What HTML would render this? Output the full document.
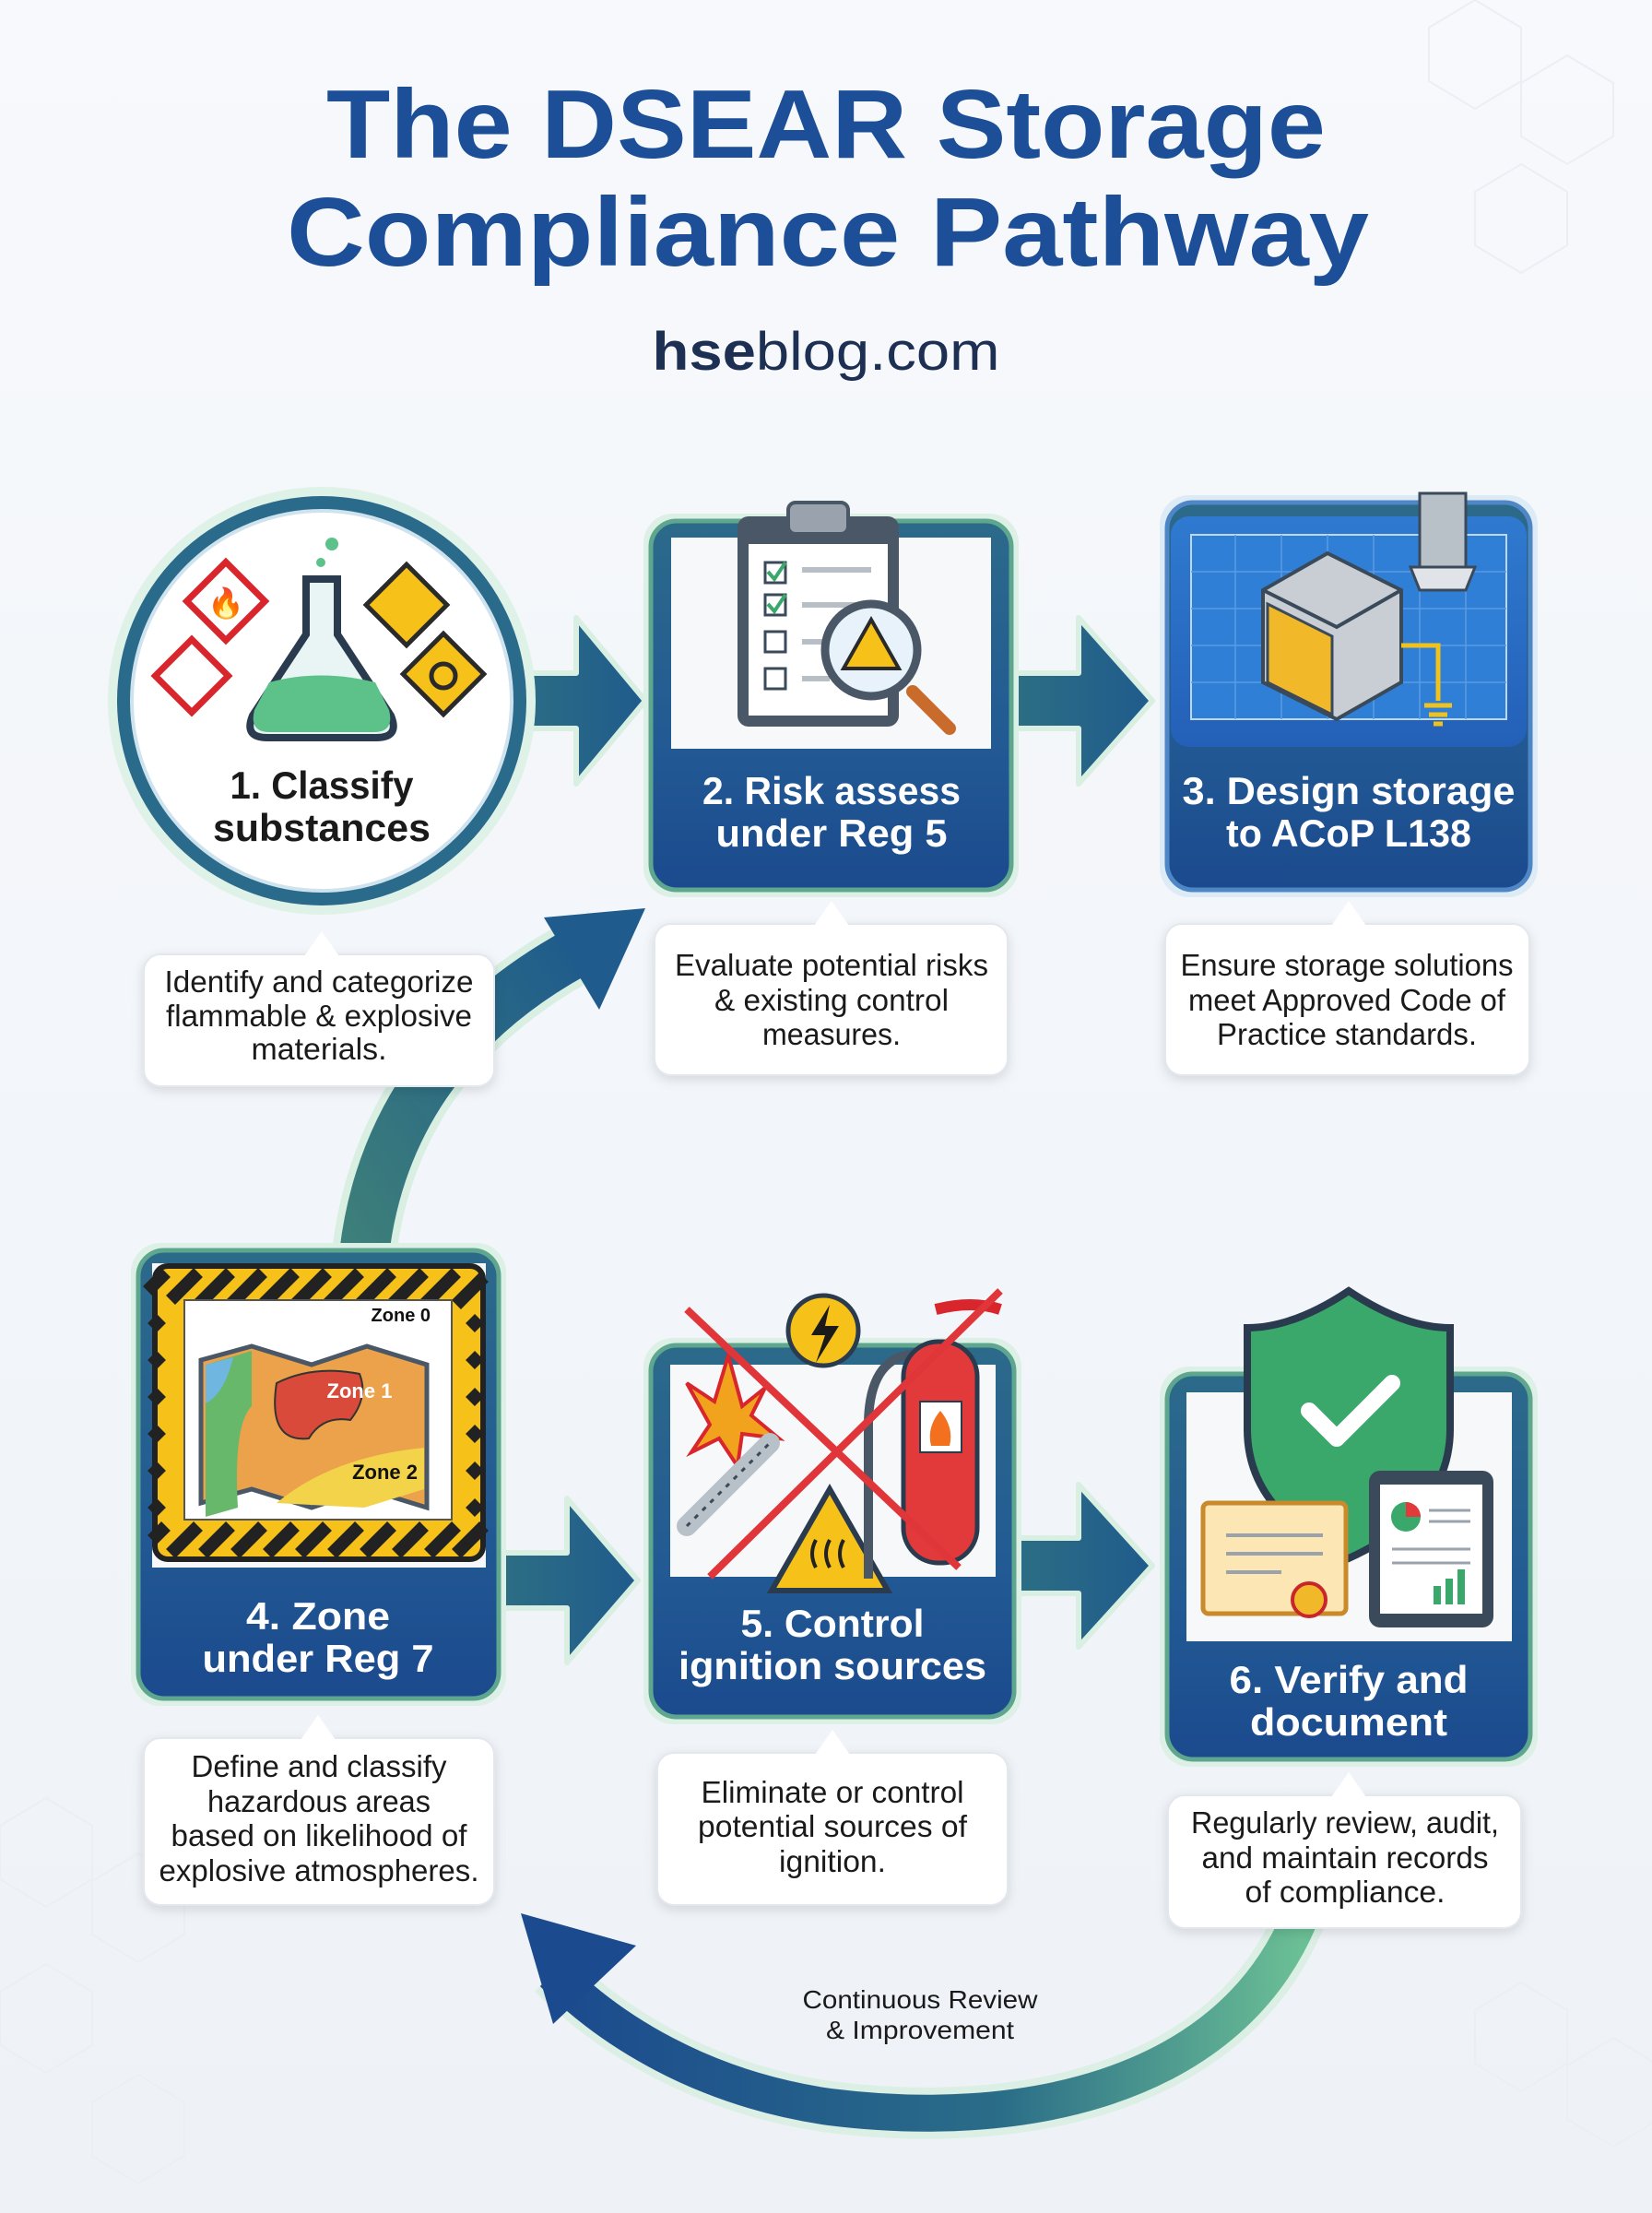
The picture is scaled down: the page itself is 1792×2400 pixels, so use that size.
<!DOCTYPE html>
<html><head><meta charset="utf-8"><style>
html,body{margin:0;padding:0;background:#f3f6fa}
svg{display:block}
text{font-family:"Liberation Sans",sans-serif}
</style></head><body>
<svg width="1792" height="2400" viewBox="0 0 1792 2400" xmlns="http://www.w3.org/2000/svg">
<defs>
<linearGradient id="bg" x1="0" y1="0" x2="0" y2="1"><stop offset="0" stop-color="#f7f9fc"/><stop offset="1" stop-color="#eef2f7"/></linearGradient>
<linearGradient id="cardg" x1="0" y1="0" x2="0" y2="1"><stop offset="0" stop-color="#2c6a8a"/><stop offset="0.6" stop-color="#225a94"/><stop offset="1" stop-color="#1b4a8e"/></linearGradient>
<linearGradient id="arrg" x1="0" y1="0" x2="1" y2="0"><stop offset="0" stop-color="#2d6f84"/><stop offset="1" stop-color="#1f5b8c"/></linearGradient>
<linearGradient id="arcg" x1="1" y1="0" x2="0" y2="0"><stop offset="0" stop-color="#6bbf95"/><stop offset="0.4" stop-color="#2a6d88"/><stop offset="1" stop-color="#1b4a8e"/></linearGradient>
<linearGradient id="upg" x1="0" y1="1" x2="1" y2="0"><stop offset="0" stop-color="#3d7f7a"/><stop offset="1" stop-color="#1f5b8c"/></linearGradient>
<linearGradient id="bp" x1="0" y1="0" x2="0" y2="1"><stop offset="0" stop-color="#2f7ad0"/><stop offset="1" stop-color="#2460b8"/></linearGradient>
</defs>
<rect width="1792" height="2400" fill="url(#bg)"/>
<g fill="none" stroke="#ebeff4" stroke-width="2">
<path d="M1600 0 l50 30 v58 l-50 30 l-50 -30 v-58z M1700 60 l50 30 v58 l-50 30 l-50 -30 v-58z M1650 178 l50 30 v58 l-50 30 l-50 -30 v-58z"/>
<path d="M50 1950 l50 30 v58 l-50 30 l-50 -30 v-58z M150 2010 l50 30 v58 l-50 30 l-50 -30 v-58z M50 2130 l50 30 v58 l-50 30 l-50 -30 v-58z M150 2250 l50 30 v58 l-50 30 l-50 -30 v-58z M1650 2150 l50 30 v58 l-50 30 l-50 -30 v-58z M1750 2210 l50 30 v58 l-50 30 l-50 -30 v-58z"/>
</g>

<text x="896" y="171" text-anchor="middle" font-size="106" font-weight="bold" fill="#1c4f98" textLength="1084" lengthAdjust="spacingAndGlyphs">The DSEAR Storage</text>
<text x="898" y="288" text-anchor="middle" font-size="106" font-weight="bold" fill="#1c4f98" textLength="1174" lengthAdjust="spacingAndGlyphs">Compliance Pathway</text>
<text x="896" y="401" text-anchor="middle" font-size="58" fill="#1d2f52" textLength="377" lengthAdjust="spacingAndGlyphs"><tspan font-weight="bold">hse</tspan>blog.com</text>

<path d="M395 1360 C410 1230 480 1110 630 1030" fill="none" stroke="#d8efe2" stroke-width="70"/>
<path d="M395 1360 C410 1230 480 1110 630 1030" fill="none" stroke="url(#upg)" stroke-width="54"/>
<polygon points="700,985 590,995 650,1095" fill="#1f5b8c"/>

<path d="M1410 2080 C1330 2270 1100 2310 900 2285 C760 2265 660 2200 600 2140" fill="none" stroke="#dcefe5" stroke-width="56"/>
<path d="M1410 2080 C1330 2270 1100 2310 900 2285 C760 2265 660 2200 600 2140" fill="none" stroke="url(#arcg)" stroke-width="40"/>
<polygon points="565,2075 690,2110 600,2195" fill="#1b4a8e"/>
<text x="998" y="2178" text-anchor="middle" font-size="28" fill="#1a1a1a" textLength="255" lengthAdjust="spacingAndGlyphs">Continuous Review</text>
<text x="998" y="2211" text-anchor="middle" font-size="28" fill="#1a1a1a" textLength="204" lengthAdjust="spacingAndGlyphs">&amp; Improvement</text>

<g fill="url(#arrg)" stroke="#d8efe2" stroke-width="6" stroke-linejoin="round">
<polygon points="550,730 625,730 625,670 700,760 625,850 625,790 550,790"/>
<polygon points="1095,730 1170,730 1170,670 1250,760 1170,850 1170,790 1095,790"/>
<polygon points="540,1684 615,1684 615,1625 692,1714 615,1803 615,1744 540,1744"/>
<polygon points="1095,1668 1170,1668 1170,1610 1250,1698 1170,1786 1170,1728 1095,1728"/>
</g>

<circle cx="349" cy="760" r="232" fill="#dff2e8"/>
<circle cx="349" cy="760" r="222" fill="#2a6a8a"/>
<circle cx="349" cy="760" r="206" fill="#ffffff"/>
<circle cx="349" cy="760" r="206" fill="none" stroke="#cfe3ef" stroke-width="4"/>
<g>
<path d="M332 628 h34 v60 l58 88 q10 24 -16 24 h-118 q-26 0 -16 -24 l58 -88z" fill="#e9f4f4" stroke="#2a3b4f" stroke-width="8"/>
<path d="M292 740 q55 -15 115 0 l15 30 q6 24 -16 24 h-114 q-22 0 -16 -24z" fill="#5cc28a"/>
<circle cx="360" cy="590" r="7" fill="#5cc28a"/><circle cx="348" cy="610" r="5" fill="#5cc28a"/>
<rect x="215" y="622" width="60" height="60" transform="rotate(45 245 652)" fill="#fff" stroke="#d9262c" stroke-width="7"/>
<text x="245" y="665" text-anchor="middle" font-size="32">🔥</text>
<rect x="180" y="705" width="56" height="56" transform="rotate(45 208 733)" fill="#fff" stroke="#d9262c" stroke-width="7"/>
<rect x="410" y="625" width="62" height="62" transform="rotate(45 441 656)" fill="#f6c21a" stroke="#2a2a2a" stroke-width="5"/>
<rect x="450" y="700" width="62" height="62" transform="rotate(45 481 731)" fill="#f6c21a" stroke="#2a2a2a" stroke-width="5"/>
<circle cx="481" cy="733" r="13" fill="none" stroke="#2a2a2a" stroke-width="5"/>
</g>
<text x="349" y="866" text-anchor="middle" font-size="42" font-weight="bold" fill="#1a1a1a" textLength="199" lengthAdjust="spacingAndGlyphs">1. Classify</text>
<text x="349" y="912" text-anchor="middle" font-size="42" font-weight="bold" fill="#1a1a1a" textLength="236" lengthAdjust="spacingAndGlyphs">substances</text>

<rect x="698" y="557" width="407" height="416" rx="32" fill="#dcf0e6"/>
<rect x="706" y="565" width="391" height="400" rx="28" fill="url(#cardg)" stroke="#5ea78e" stroke-width="5"/>
<rect x="728" y="583" width="347" height="229" fill="#f7f8fa"/>
<rect x="800" y="560" width="175" height="228" rx="12" fill="#4a5766"/>
<rect x="812" y="590" width="151" height="186" fill="#fff"/>
<rect x="855" y="545" width="65" height="34" rx="8" fill="#9aa3ad" stroke="#4a5766" stroke-width="4"/>
<g stroke="#3a4a5a" stroke-width="3" fill="#fff">
<rect x="830" y="610" width="22" height="22"/><rect x="830" y="645" width="22" height="22"/><rect x="830" y="685" width="22" height="22"/><rect x="830" y="725" width="22" height="22"/></g>
<path d="M833 620 l7 8 l12 -18 M833 655 l7 8 l12 -18" stroke="#3aa86a" stroke-width="4" fill="none"/>
<g stroke="#b8bec6" stroke-width="6"><path d="M870 618 h75 M870 656 h75 M870 696 h30 M870 736 h30"/></g>
<path d="M990 750 l40 40" stroke="#c96b2a" stroke-width="14" stroke-linecap="round"/>
<circle cx="945" cy="705" r="50" fill="#e8f2fa" stroke="#4a5766" stroke-width="9"/>
<polygon points="945,672 975,725 915,725" fill="#f6c21a" stroke="#2a2a2a" stroke-width="4"/>
<text x="902" y="872" text-anchor="middle" font-size="42" font-weight="bold" fill="#fff" textLength="280" lengthAdjust="spacingAndGlyphs">2. Risk assess</text>
<text x="902" y="918" text-anchor="middle" font-size="42" font-weight="bold" fill="#fff" textLength="251" lengthAdjust="spacingAndGlyphs">under Reg 5</text>

<rect x="1258" y="537" width="410" height="436" rx="32" fill="#dcebf6"/>
<rect x="1266" y="545" width="394" height="420" rx="28" fill="url(#cardg)" stroke="#4f86c6" stroke-width="5"/>
<rect x="1270" y="560" width="386" height="250" rx="20" fill="url(#bp)"/>
<rect x="1292" y="580" width="342" height="200" fill="#2f7fd6" stroke="#bcd8f5" stroke-width="2"/>
<g stroke="#5b9be3" stroke-width="1.5"><path d="M1292 620 h342 M1292 660 h342 M1292 700 h342 M1292 740 h342 M1340 580 v200 M1390 580 v200 M1440 580 v200 M1490 580 v200 M1540 580 v200 M1590 580 v200"/></g>
<path d="M1370 640 l70 -40 l80 40 v100 l-70 40 l-80 -40z" fill="#c9ced4" stroke="#3a4a5a" stroke-width="4"/>
<path d="M1370 640 l80 40 l70 -40" fill="none" stroke="#3a4a5a" stroke-width="4"/>
<path d="M1375 655 l70 35 v85 l-70 -35z" fill="#f1b92a" stroke="#3a4a5a" stroke-width="3"/>
<path d="M1520 700 h40 v60" stroke="#f1c21a" stroke-width="5" fill="none"/>
<path d="M1545 765 h30 M1550 775 h20 M1555 785 h10" stroke="#f1c21a" stroke-width="5"/>
<rect x="1540" y="535" width="50" height="80" fill="#b8c0c8" stroke="#3a4a5a" stroke-width="3"/>
<path d="M1530 615 h70 l-10 25 h-50z" fill="#e0e4e8" stroke="#3a4a5a" stroke-width="3"/>
<text x="1463" y="872" text-anchor="middle" font-size="42" font-weight="bold" fill="#fff" textLength="361" lengthAdjust="spacingAndGlyphs">3. Design storage</text>
<text x="1463" y="918" text-anchor="middle" font-size="42" font-weight="bold" fill="#fff" textLength="266" lengthAdjust="spacingAndGlyphs">to ACoP L138</text>

<rect x="142" y="1348" width="407" height="502" rx="32" fill="#dcf0e6"/>
<rect x="150" y="1356" width="391" height="486" rx="28" fill="url(#cardg)" stroke="#5ea78e" stroke-width="5"/>
<rect x="165" y="1370" width="362" height="330" fill="#f7f8fa"/>
<rect x="168" y="1373" width="356" height="318" rx="14" fill="#f6c21a" stroke="#222" stroke-width="6"/>
<g stroke="#222" stroke-width="14">
<path d="M180 1380 l-20 20 M215 1380 l-30 30 M250 1380 l-35 35 M285 1380 l-35 35 M320 1380 l-35 35 M355 1380 l-35 35 M390 1380 l-35 35 M425 1380 l-35 35 M460 1380 l-35 35 M495 1380 l-35 35 M525 1385 l-30 30"/>
<path d="M180 1655 l-15 15 M215 1655 l-30 30 M250 1655 l-30 30 M285 1655 l-30 30 M320 1655 l-30 30 M355 1655 l-30 30 M390 1655 l-30 30 M425 1655 l-30 30 M460 1655 l-30 30 M495 1655 l-30 30 M525 1655 l-30 30"/>
<path d="M175 1430 l-10 10 M175 1470 l-10 10 M175 1510 l-10 10 M175 1550 l-10 10 M175 1590 l-10 10 M175 1630 l-10 10 M520 1430 l-10 10 M520 1470 l-10 10 M520 1510 l-10 10 M520 1550 l-10 10 M520 1590 l-10 10 M520 1630 l-10 10"/>
</g>
<rect x="200" y="1410" width="290" height="238" fill="#fff" stroke="#555" stroke-width="2"/>
<path d="M218 1545 l55 -15 l65 20 l60 -20 l65 20 v155 l-65 -20 l-60 20 l-65 -20 l-55 15z" transform="translate(0,-70)" fill="#eba24a" stroke="#4a5766" stroke-width="5"/>
<path d="M223 1480 l50 -15 v60 q-20 20 -15 110 l-35 10z" fill="#67b86a"/>
<path d="M223 1480 l30 -8 q-10 40 -30 50z" fill="#6fb7e0"/>
<path d="M300 1500 q40 -20 90 -10 q10 25 -10 50 q-30 -5 -45 20 q-45 5 -35 -60z" fill="#d94a3a" stroke="#333" stroke-width="2"/>
<path d="M300 1630 q60 -50 160 -60 v45 l-65 20 z" fill="#f2d34a"/>
<text x="467" y="1433" text-anchor="end" font-size="20" font-weight="bold" fill="#111">Zone 0</text>
<text x="390" y="1516" text-anchor="middle" font-size="22" font-weight="bold" fill="#fff">Zone 1</text>
<text x="453" y="1604" text-anchor="end" font-size="22" font-weight="bold" fill="#111">Zone 2</text>
<text x="345" y="1767" text-anchor="middle" font-size="42" font-weight="bold" fill="#fff" textLength="156" lengthAdjust="spacingAndGlyphs">4. Zone</text>
<text x="345" y="1813" text-anchor="middle" font-size="42" font-weight="bold" fill="#fff" textLength="251" lengthAdjust="spacingAndGlyphs">under Reg 7</text>

<rect x="698" y="1451" width="410" height="419" rx="32" fill="#dcf0e6"/>
<rect x="706" y="1459" width="394" height="403" rx="28" fill="url(#cardg)" stroke="#5ea78e" stroke-width="5"/>
<rect x="727" y="1480" width="353" height="230" fill="#f7f8fa"/>
<polygon points="745,1500 775,1520 790,1470 805,1525 830,1505 815,1535 845,1560 805,1555 800,1590 780,1560 750,1575 770,1545" fill="#f2a31e" stroke="#d9262c" stroke-width="4"/>
<circle cx="893" cy="1443" r="38" fill="#f6c21a" stroke="#2a3b4f" stroke-width="5"/>
<polygon points="900,1415 880,1448 895,1448 885,1478 910,1438 895,1438" fill="#1a1a1a"/>
<path d="M745 1655 l90 -90" stroke="#b8c0c8" stroke-width="22" stroke-linecap="round"/>
<path d="M745 1655 l90 -90" stroke="#3a4a5a" stroke-width="3" stroke-dasharray="5 7"/>
<polygon points="900,1615 963,1725 837,1725" fill="#f6c21a" stroke="#2a3b4f" stroke-width="6"/>
<path d="M885 1700 q-8 -15 0 -30 M900 1700 q-8 -15 0 -30 M915 1700 q-8 -15 0 -30" stroke="#222" stroke-width="4" fill="none"/>
<path d="M1020 1472 q-80 -20 -78 80 v160" stroke="#4a5766" stroke-width="10" fill="none"/>
<path d="M1015 1420 q40 -10 70 0" stroke="#d9262c" stroke-width="12" fill="none"/>
<rect x="980" y="1455" width="80" height="240" rx="38" fill="#e23a3a" stroke="#2a3b4f" stroke-width="5"/>
<rect x="998" y="1520" width="45" height="55" fill="#fff" stroke="#2a3b4f" stroke-width="2"/>
<path d="M1010 1568 q-5 -20 10 -38 q15 18 10 38z" fill="#f2701e"/>
<path d="M745 1420 L1040 1700 M1085 1400 L770 1710" stroke="#e0363a" stroke-width="8"/>
<text x="903" y="1775" text-anchor="middle" font-size="42" font-weight="bold" fill="#fff" textLength="199" lengthAdjust="spacingAndGlyphs">5. Control</text>
<text x="903" y="1821" text-anchor="middle" font-size="42" font-weight="bold" fill="#fff" textLength="334" lengthAdjust="spacingAndGlyphs">ignition sources</text>

<rect x="1258" y="1482" width="410" height="434" rx="32" fill="#dcf0e6"/>
<rect x="1266" y="1490" width="394" height="418" rx="28" fill="url(#cardg)" stroke="#5ea78e" stroke-width="5"/>
<rect x="1287" y="1510" width="353" height="270" fill="#f7f8fa"/>
<path d="M1463 1400 q60 40 110 40 v110 q0 90 -110 140 q-110 -50 -110 -140 v-110 q50 0 110 -40z" fill="#3aa86a" stroke="#2a3b4f" stroke-width="8"/>
<path d="M1420 1530 l30 30 l60 -60" stroke="#fff" stroke-width="18" fill="none" stroke-linecap="round" stroke-linejoin="round"/>
<rect x="1305" y="1630" width="155" height="120" rx="6" fill="#fbe6b4" stroke="#c88a2a" stroke-width="5"/>
<path d="M1330 1665 h105 M1330 1685 h105 M1330 1705 h60" stroke="#9aa3ad" stroke-width="4"/>
<circle cx="1420" cy="1735" r="18" fill="#f1b92a" stroke="#c9262c" stroke-width="4"/>
<rect x="1485" y="1595" width="135" height="170" rx="12" fill="#3a4a5a"/>
<rect x="1497" y="1610" width="111" height="140" fill="#fff"/>
<circle cx="1525" cy="1645" r="16" fill="#3aa86a"/><path d="M1525 1645 v-16 a16 16 0 0 1 16 16z" fill="#e23a3a"/>
<path d="M1550 1638 h45 M1550 1650 h45 M1510 1680 h85 M1510 1695 h85" stroke="#9aa3ad" stroke-width="3"/>
<rect x="1555" y="1720" width="8" height="20" fill="#3aa86a"/><rect x="1568" y="1712" width="8" height="28" fill="#3aa86a"/><rect x="1581" y="1702" width="8" height="38" fill="#3aa86a"/>
<text x="1463" y="1836" text-anchor="middle" font-size="42" font-weight="bold" fill="#fff" textLength="259" lengthAdjust="spacingAndGlyphs">6. Verify and</text>
<text x="1463" y="1882" text-anchor="middle" font-size="42" font-weight="bold" fill="#fff" textLength="214" lengthAdjust="spacingAndGlyphs">document</text>

<g fill="#fff" stroke="#e3e8ee" stroke-width="2" style="filter:drop-shadow(0 4px 6px rgba(0,0,0,0.12))">
<rect x="156" y="1035" width="380" height="143" rx="18"/>
<rect x="710" y="1002" width="383" height="164" rx="18"/>
<rect x="1264" y="1002" width="395" height="164" rx="18"/>
<rect x="156" y="1885" width="380" height="181" rx="18"/>
<rect x="713" y="1901" width="380" height="165" rx="18"/>
<rect x="1267" y="1947" width="383" height="144" rx="18"/>
</g>
<g fill="#fff">
<polygon points="330,1037 349,1010 368,1037"/>
<polygon points="883,1004 902,977 921,1004"/>
<polygon points="1444,1004 1463,977 1482,1004"/>
<polygon points="326,1887 345,1860 364,1887"/>
<polygon points="884,1903 903,1876 922,1903"/>
<polygon points="1444,1949 1463,1922 1482,1949"/>
</g>
<g font-size="33" fill="#1a1a1a" text-anchor="middle">
<text x="346" y="1076" textLength="335" lengthAdjust="spacingAndGlyphs">Identify and categorize</text>
<text x="346" y="1113" textLength="332" lengthAdjust="spacingAndGlyphs">flammable &amp; explosive</text>
<text x="346" y="1149" textLength="147" lengthAdjust="spacingAndGlyphs">materials.</text>
<text x="902" y="1058" textLength="340" lengthAdjust="spacingAndGlyphs">Evaluate potential risks</text>
<text x="902" y="1096" textLength="254" lengthAdjust="spacingAndGlyphs">&amp; existing control</text>
<text x="902" y="1133" textLength="150" lengthAdjust="spacingAndGlyphs">measures.</text>
<text x="1461" y="1058" textLength="361" lengthAdjust="spacingAndGlyphs">Ensure storage solutions</text>
<text x="1461" y="1096" textLength="344" lengthAdjust="spacingAndGlyphs">meet Approved Code of</text>
<text x="1461" y="1133" textLength="282" lengthAdjust="spacingAndGlyphs">Practice standards.</text>
<text x="346" y="1927" textLength="277" lengthAdjust="spacingAndGlyphs">Define and classify</text>
<text x="346" y="1965" textLength="242" lengthAdjust="spacingAndGlyphs">hazardous areas</text>
<text x="346" y="2002" textLength="321" lengthAdjust="spacingAndGlyphs">based on likelihood of</text>
<text x="346" y="2040" textLength="347" lengthAdjust="spacingAndGlyphs">explosive atmospheres.</text>
<text x="903" y="1955" textLength="285" lengthAdjust="spacingAndGlyphs">Eliminate or control</text>
<text x="903" y="1992" textLength="292" lengthAdjust="spacingAndGlyphs">potential sources of</text>
<text x="903" y="2030" textLength="116" lengthAdjust="spacingAndGlyphs">ignition.</text>
<text x="1459" y="1988" textLength="334" lengthAdjust="spacingAndGlyphs">Regularly review, audit,</text>
<text x="1459" y="2026" textLength="311" lengthAdjust="spacingAndGlyphs">and maintain records</text>
<text x="1459" y="2063" textLength="217" lengthAdjust="spacingAndGlyphs">of compliance.</text>
</g>
</svg>
</body></html>
